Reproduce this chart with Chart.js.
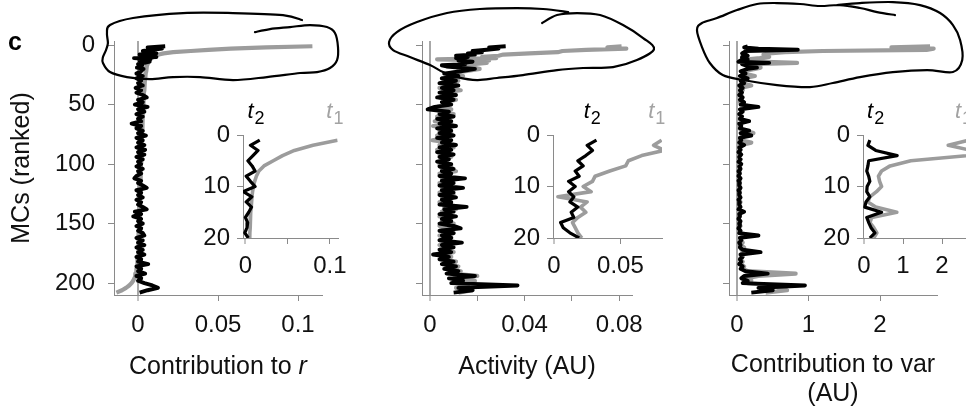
<!DOCTYPE html>
<html><head><meta charset="utf-8">
<script src="https://cdn.jsdelivr.net/npm/chart.js@4.4.1/dist/chart.umd.min.js"></script>
<style>
html,body{margin:0;padding:0;background:#fff;}
#wrap{position:relative;width:966px;height:409px;overflow:hidden;background:#fff;}
canvas{position:absolute;}
</style></head><body>
<div id="wrap">
<canvas id="m1"></canvas><canvas id="m2"></canvas><canvas id="m3"></canvas>
<canvas id="i1"></canvas><canvas id="i2"></canvas><canvas id="i3"></canvas>
</div>
<script>
// ---- data: MC rank (category) ----
const ranks = [1,2,3,4,5,6,7,8,9,10,11,12,13,14,15,16,17,18,19,20,
22,24,26,28,30,32,34,36,38,40,42,44,46,48,50,52,54,56,58,60,
62,64,66,68,70,72,74,76,78,80,82,84,86,88,90,92,94,96,98,100,
102,104,106,108,110,112,114,116,118,120,122,124,126,128,130,132,134,136,138,140,
142,144,146,148,150,152,154,156,158,160,162,164,166,168,170,172,174,176,178,180,
182,184,186,188,190,192,194,196,198,200,202,204,206,208];

// Contribution to r
const rT1 = [0.109,0.080,0.058,0.044,0.033,0.022,0.016,0.013,0.011,0.0095,0.0085,0.0078,0.0072,0.0067,0.0063,0.006,0.0057,0.0055,0.0053,0.0052,
0.005,0.0048,0.0046,0.0045,0.0043,0.0042,0.004,0.0039,0.0038,0.0037,
0.0036,0.0035,0.0034,0.0033,0.0032,0.0031,0.003,0.003,0.0029,0.0028,
0.0028,0.0027,0.0026,0.0026,0.0025,0.0025,0.0024,0.0024,0.0023,0.0023,
0.0022,0.0022,0.0021,0.0021,0.002,0.002,0.002,0.0019,0.0019,0.0018,
0.0018,0.0018,0.0017,0.0017,0.0016,0.0016,0.0016,0.0015,0.0015,0.0014,
0.0014,0.0014,0.0013,0.0013,0.0012,0.0012,0.0012,0.0011,0.0011,0.001,
0.001,0.001,0.0009,0.0009,0.0008,0.0008,0.0007,0.0007,0.0006,0.0006,
0.0005,0.0005,0.0004,0.0004,0.0003,0.0003,0.0002,0.0001,0.0,-0.0001,
-0.0002,-0.0004,-0.0005,-0.0007,-0.001,-0.0013,-0.0017,-0.0022,-0.003,-0.004,
-0.0055,-0.0075,-0.01,-0.0135];
const rT2 = [0.017,0.006,0.015,0.009,0.003,0.008,0.0115,0.001,0.006,0.0115,-0.0025,0.0077,0.001,0.0073,0.004,0.0,0.0027,0.002,-0.0007,0.0035,
0.002,-0.001,0.003,-0.001,0.002,0.0,0.003,-0.0015,0.002,-0.001,
0.003,0.0055,0.0,0.003,-0.002,0.006,0.0,0.004,-0.001,0.003,
0.0,0.002,-0.004,0.002,-0.001,0.003,0.0,0.005,-0.001,0.003,
0.0,0.004,-0.001,0.0045,0.0,0.004,-0.001,0.003,0.0,0.002,
-0.001,0.003,0.0,0.002,-0.001,-0.0023,0.002,0.0,0.003,0.0055,
-0.001,0.002,0.0,0.003,-0.001,0.002,0.0,0.003,0.0055,-0.002,
0.002,-0.003,0.002,0.0,0.003,-0.001,0.002,0.0,0.003,0.004,
-0.001,0.003,0.0,0.004,-0.001,0.003,0.0,0.004,-0.001,0.002,
0.0,0.0064,-0.001,0.002,0.0,0.0045,-0.001,0.002,0.0,0.004,
0.009,0.0125,0.006,0.001];

// Activity (AU)
const aT1 = [0.081,0.075,0.083,0.066,0.056,0.054,0.042,0.031,0.029,0.022,0.028,0.003,0.025,0.020,0.024,0.018,0.014,0.016,0.018,0.021,
0.015,0.007,0.014,0.005,0.012,0.006,0.011,0.004,0.013,0.005,
0.010,0.004,0.011,0.006,0.008,0.003,0.009,0.004,0.010,0.003,
0.008,0.002,0.009,0.0013,0.008,0.004,0.009,0.003,0.007,0.001,
0.008,0.004,0.010,0.003,0.008,0.004,0.009,0.005,0.007,0.004,
0.009,0.005,0.011,0.004,0.008,0.005,0.010,0.004,0.009,0.005,
0.008,0.004,0.010,0.005,0.008,0.004,0.009,0.006,0.011,0.005,
0.008,0.004,0.009,0.005,0.010,0.004,0.008,0.005,0.010,0.004,
0.009,0.005,0.008,0.004,0.009,0.005,0.010,0.004,0.009,0.006,
0.011,0.007,0.012,0.008,0.013,0.009,0.020,0.010,0.019,0.012,
0.016,0.011,0.018,0.012];
const aT2 = [0.032,0.025,0.029,0.024,0.018,0.022,0.016,0.019,0.011,0.016,0.011,0.015,0.012,0.018,0.013,0.015,0.005,0.007,0.012,0.019,
0.013,0.006,0.012,0.005,0.011,0.004,0.012,0.005,0.010,0.004,
0.011,0.003,0.010,0.005,0.009,0.002,-0.001,0.008,0.004,0.010,
0.003,0.009,0.004,0.011,0.003,0.009,0.004,0.010,0.003,0.009,
0.005,0.011,0.004,0.009,0.003,0.010,0.004,0.008,0.003,0.009,
0.004,0.010,0.005,0.009,0.004,0.0148,0.005,0.010,0.004,0.014,
0.005,0.010,0.004,0.011,0.005,0.009,0.004,0.0155,0.006,0.010,
0.004,0.011,0.005,0.009,0.004,0.010,0.013,0.004,0.010,0.005,
0.009,0.004,0.0135,0.005,0.010,0.004,0.009,0.0013,0.008,0.004,
0.010,0.005,0.011,0.006,0.012,0.007,0.019,0.008,0.014,0.009,
0.037,0.012,0.018,0.010];

// Contribution to var (AU)
const vT1 = [2.70,2.16,2.75,2.65,1.20,0.67,0.45,0.37,0.40,0.45,0.32,0.15,0.10,0.30,0.84,0.20,0.15,0.25,0.33,0.25,
0.08,0.10,0.25,0.08,0.12,0.06,0.20,0.05,0.08,0.04,
0.06,0.05,0.07,0.04,0.08,0.20,0.05,0.06,0.04,0.07,
0.03,0.12,0.04,0.05,0.03,0.12,0.23,0.08,0.04,0.05,
0.20,0.06,0.03,0.05,0.03,0.04,0.02,0.05,0.03,0.04,
0.02,0.04,0.03,0.04,0.02,0.04,0.03,0.04,0.02,0.04,
0.03,0.04,0.02,0.04,0.03,0.05,0.02,0.04,0.03,0.06,
0.03,0.04,0.02,0.04,0.03,0.05,0.02,0.04,0.05,0.15,
0.04,0.06,0.08,0.05,0.10,0.06,0.20,0.05,0.06,0.04,
0.08,0.05,0.10,0.08,0.15,0.82,0.30,0.12,0.20,0.15,
0.50,0.60,0.70,0.40];
const vT2 = [0.15,0.10,0.30,0.85,0.12,0.10,0.07,0.12,0.15,0.08,0.07,0.15,0.05,0.02,0.45,0.07,0.12,0.18,0.28,0.15,
0.05,0.12,0.04,0.15,0.05,0.10,0.03,0.08,0.04,0.07,
0.03,0.08,0.04,0.10,0.05,0.30,0.04,0.08,0.03,0.07,
0.04,0.17,0.03,0.06,0.04,0.17,0.05,0.20,0.04,0.06,
0.03,0.10,0.03,0.05,0.02,0.06,0.03,0.05,0.02,0.06,
0.03,0.05,0.02,0.04,0.02,0.05,0.02,0.04,0.03,0.05,
0.02,0.04,0.03,0.05,0.02,0.04,0.03,0.05,0.02,0.10,
0.03,0.04,0.02,0.05,0.03,0.04,0.02,0.05,0.03,0.30,
0.04,0.06,0.03,0.05,0.04,0.08,0.33,0.05,0.08,0.04,
0.06,0.03,0.08,0.05,0.12,0.43,0.10,0.06,0.15,0.08,
0.95,0.30,0.50,0.20];

// tick values and labels
const mainYTicks = [0,50,100,150,200];
const mainYLabels = ['0','50','100','150','200'];
const insetYTicks = [0,10,20];
const insetYLabels = ['0','10','20'];
const rXTicks = [0,0.05,0.1], rXLabels = ['0','0.05','0.1'];
const aXTicks = [0,0.02,0.04,0.06,0.08], aXLabels = ['0','','0.04','','0.08'];
const vXTicks = [0,1,2], vXLabels = ['0','1','2'];
const rInTicks = [0,0.05,0.1], rInLabels = ['0','','0.1'];
const aInTicks = [0,0.05], aInLabels = ['0','0.05'];
const vInTicks = [0,1,2], vInLabels = ['0','1','2'];

// hand-drawn outlines (value, rank) around the top-ranked MCs
const outlineR = [[0.1025,-21],[0.0906,-25.2],[0.0594,-26.9],[0.0281,-26.9],[-0.0031,-22.7],[-0.0175,-16.8],[-0.0194,-10.1],[-0.0188,-1.7],[-0.02,4.2],[-0.0219,10.1],[-0.0219,15.1],[-0.0175,22.7],[-0.0069,26.9],[0.0075,28.6],[0.0219,26.9],[0.0388,26.9],[0.0594,29.4],[0.0806,26.9],[0.1013,23.5],[0.1119,22.7],[0.12,19.3],[0.1244,12.6],[0.125,1.7],[0.1231,-10.1],[0.1181,-15.1],[0.1075,-16.8],[0.095,-15.1],[0.0825,-13.4],[0.0731,-10.9]];
const outlineA = [[0.0584,-27.7],[0.0478,-30.3],[0.0368,-31.1],[0.0211,-30.3],[0.0072,-26.9],[-0.0055,-19.3],[-0.014,-10.9],[-0.0173,-2.5],[-0.0156,4.2],[-0.0085,10.1],[0,16.8],[0.0055,22.7],[0.0114,26.9],[0.0199,29.4],[0.0283,27.7],[0.0393,25.2],[0.0537,21],[0.0647,19.3],[0.0774,18.5],[0.0875,12.6],[0.0947,3.4],[0.0901,-5.9],[0.0816,-16.8],[0.0719,-25.2],[0.0622,-26.9],[0.0537,-25.2],[0.0474,-18.5]];
const outlineV = [[2.21,-25.2],[1.96,-27.7],[1.72,-31.1],[1.44,-33.6],[1.16,-32.8],[0.88,-34.5],[0.56,-35.3],[0.28,-34.5],[0,-29.4],[-0.28,-22.7],[-0.49,-18.5],[-0.56,-12.6],[-0.49,1.7],[-0.38,15.1],[-0.2,25.2],[0.08,29.4],[0.56,33.6],[1.02,35.3],[1.34,31.9],[1.72,26.9],[2.18,22.7],[2.66,21],[3.02,22.7],[3.15,12.6],[3.12,-4.2],[3.02,-16.8],[2.84,-26.9],[2.56,-33.6],[2.18,-36.1],[1.72,-35.3],[1.40,-33.6]];

// ---- styling ----
const FONT = '"Liberation Sans", Arial, Helvetica, sans-serif';
const AX = '#8a8a8a', ZERO = '#a8a8a8', GRAY = '#9c9c9c', TXT = '#111';

function pts(vals, n) {
  const out = [];
  for (let i = 0; i < n; i++) out.push({x: vals[i], y: ranks[i]});
  return out;
}
function smooth(ctx, p) {
  ctx.beginPath(); ctx.moveTo(p[0][0], p[0][1]);
  for (let i = 0; i < p.length - 1; i++) {
    const p0 = p[i-1] || p[i], p1 = p[i], p2 = p[i+1], p3 = p[i+2] || p2;
    ctx.bezierCurveTo(p1[0] + (p2[0]-p0[0])/6, p1[1] + (p2[1]-p0[1])/6,
                      p2[0] - (p3[0]-p1[0])/6, p2[1] - (p3[1]-p1[1])/6, p2[0], p2[1]);
  }
  ctx.stroke();
}
function outlinePlugin(list) {
  return { id: 'outline', afterDraw(chart) {
    const {ctx, scales: {x, y}} = chart;
    const p = list.map(([vx, vy]) => [x.getPixelForValue(vx), y.getPixelForValue(vy)]);
    ctx.save(); ctx.strokeStyle = '#000'; ctx.lineWidth = 2.2; ctx.lineJoin = 'round'; ctx.lineCap = 'round';
    smooth(ctx, p); ctx.restore();
  }};
}
function tPlugin(items) {
  return { id: 'tlabels', afterDraw(chart) {
    const {ctx, chartArea, scales: {x}} = chart;
    ctx.save(); ctx.textAlign = 'left'; ctx.textBaseline = 'alphabetic';
    items.forEach(it => {
      const px = x.getPixelForValue(it.v), py = chartArea.top - 17;
      ctx.fillStyle = it.color;
      ctx.font = 'italic 22px ' + FONT; ctx.fillText('t', px, py);
      const w = ctx.measureText('t').width;
      ctx.font = '18px ' + FONT; ctx.fillText(it.sub, px + w + 1, py + 6);
    });
    ctx.restore();
  }};
}
// x title "Contribution to r" with italic r
function mixedTitle(parts, yPix) {
  return { id: 'mixedTitle', afterDraw(chart) {
    const {ctx, chartArea} = chart;
    ctx.save(); ctx.fillStyle = TXT; ctx.textBaseline = 'middle'; ctx.textAlign = 'left';
    let total = 0;
    parts.forEach(p => { ctx.font = (p.italic ? 'italic ' : '') + '25px ' + FONT; total += ctx.measureText(p.text).width; });
    let px = (chartArea.left + chartArea.right) / 2 - total / 2;
    parts.forEach(p => { ctx.font = (p.italic ? 'italic ' : '') + '25px ' + FONT; ctx.fillText(p.text, px, yPix); px += ctx.measureText(p.text).width; });
    ctx.restore();
  }};
}
const panelLetter = { id: 'letter', afterDraw(chart) {
  const ctx = chart.ctx; ctx.save(); ctx.fillStyle = '#000';
  ctx.font = 'bold 25px ' + FONT; ctx.textBaseline = 'alphabetic'; ctx.fillText('c', 8, 50); ctx.restore();
}};

function build(id, o) {
  const el = document.getElementById(id);
  el.style.left = o.left + 'px'; el.style.top = o.top + 'px';
  el.style.width = o.w + 'px'; el.style.height = o.h + 'px';
  el.width = o.w; el.height = o.h;
  return new Chart(el, {
    type: 'scatter',
    data: { datasets: [
      {data: pts(o.black, o.n), borderColor: '#000', borderWidth: o.bw, showLine: true, pointRadius: 0, pointHoverRadius: 0, borderJoinStyle: 'round', order: 0},
      {data: pts(o.gray, o.n), borderColor: GRAY, borderWidth: o.gw, showLine: true, pointRadius: 0, pointHoverRadius: 0, borderJoinStyle: 'round', order: 1}
    ]},
    options: {
      responsive: false, maintainAspectRatio: false, animation: false, devicePixelRatio: 1, events: [],
      layout: { padding: o.pad },
      plugins: { legend: {display: false}, tooltip: {enabled: false} },
      scales: {
        x: { type: 'linear', position: 'bottom', min: o.xmin, max: o.xmax,
          afterBuildTicks: s => { s.ticks = o.xt.map(v => ({value: v})); },
          afterFit: s => { s.height = o.xh; },
          ticks: { autoSkip: false, maxRotation: 0, minRotation: 0, padding: o.xpad, color: TXT,
                   font: {family: FONT, size: o.fs}, callback: (v, i) => o.xl[i] },
          grid: { drawOnChartArea: !!o.zero, drawTicks: true, tickLength: 6, tickWidth: 1, tickColor: AX,
                  color: c => (o.zero && c.tick && c.tick.value === 0) ? ZERO : 'rgba(0,0,0,0)',
                  lineWidth: c => (c.tick && c.tick.value === 0) ? 2 : 1 },
          border: { display: true, color: AX, width: 1 },
          title: o.xtitle ? { display: true, text: o.xtitle, color: TXT,
                   font: {family: FONT, size: 25, lineHeight: 1.15}, padding: {top: 0, bottom: o.tpb} } : {display: false}
        },
        y: { type: 'linear', position: 'left', reverse: true, min: o.ymin, max: o.ymax,
          afterBuildTicks: s => { s.ticks = o.yt.map(v => ({value: v})); },
          afterFit: s => { s.width = o.yw; },
          ticks: { autoSkip: false, padding: o.ypad, color: TXT, font: {family: FONT, size: o.fs},
                   callback: (v, i) => o.yl ? o.yl[i] : '' },
          grid: { drawOnChartArea: false, drawTicks: true, tickLength: 6, tickWidth: 1, tickColor: AX },
          border: { display: true, color: AX, width: 1 },
          title: o.ytitle ? { display: true, text: o.ytitle, color: TXT,
                   font: {family: FONT, size: 25, lineHeight: 1.15}, padding: {top: o.ytp, bottom: 0} } : {display: false}
        }
      }
    },
    plugins: o.plugins || []
  });
}

const N = ranks.length;
const mainCommon = { top: 0, h: 409, n: N, ymin: -3.4, ymax: 210, yt: mainYTicks, xh: 114, xpad: 10, ypad: 13, fs: 24, bw: 3.9, gw: 4.2, zero: true };
build('m1', Object.assign({}, mainCommon, { left: 0, w: 340, pad: {top: 41, left: 0, right: 18, bottom: 0}, yw: 114,
  black: rT2, gray: rT1, xmin: -0.015, xmax: 0.115, xt: rXTicks, xl: rXLabels, yl: mainYLabels,
  xtitle: null, ytitle: 'MCs (ranked)', ytp: 8,
  plugins: [outlinePlugin(outlineR), panelLetter, mixedTitle([{text: 'Contribution to '}, {text: 'r', italic: true}], 367)] }));
build('m2', Object.assign({}, mainCommon, { left: 340, w: 330, pad: {top: 41, left: 0, right: 38, bottom: 0}, yw: 82,
  black: aT2, gray: aT1, xmin: -0.00338, xmax: 0.0854, xt: aXTicks, xl: aXLabels, yl: null,
  xtitle: 'Activity (AU)', tpb: 28, plugins: [outlinePlugin(outlineA)] }));
build('m3', Object.assign({}, mainCommon, { left: 660, w: 306, pad: {top: 41, left: 0, right: 29, bottom: 0}, yw: 69,
  black: vT2, gray: vT1, xmin: -0.112, xmax: 2.797, xt: vXTicks, xl: vXLabels, yl: null,
  xtitle: ['Contribution to var', '(AU)'], tpb: 1, plugins: [outlinePlugin(outlineV)] }));

const insetCommon = { top: 90, h: 200, n: 20, ymin: 0, ymax: 20, yt: insetYTicks, yl: insetYLabels, yw: 63, xh: 52, xpad: 8, ypad: 7, fs: 24, bw: 3.2, gw: 3.6, zero: false };
build('i1', Object.assign({}, insetCommon, { left: 180, w: 175, pad: {top: 45, left: 0, right: 5, bottom: 0},
  black: rT2, gray: rT1, xmin: -0.0028, xmax: 0.1093, xt: rInTicks, xl: rInLabels,
  plugins: [tPlugin([{v: 0.0024, sub: '2', color: '#000'}, {v: 0.0957, sub: '1', color: '#a3a3a3'}])] }));
build('i2', Object.assign({}, insetCommon, { left: 490, w: 180, pad: {top: 45, left: 0, right: 8, bottom: 0},
  black: aT2, gray: aT1, xmin: -0.0007, xmax: 0.0813, xt: aInTicks, xl: aInLabels,
  plugins: [tPlugin([{v: 0.0224, sub: '2', color: '#000'}, {v: 0.0709, sub: '1', color: '#a3a3a3'}])] }));
build('i3', Object.assign({}, insetCommon, { left: 800, w: 166, pad: {top: 45, left: 0, right: 0, bottom: 0},
  black: vT2, gray: vT1, xmin: -0.026, xmax: 2.615, xt: vInTicks, xl: vInLabels,
  plugins: [tPlugin([{v: 0.077, sub: '2', color: '#000'}, {v: 2.33, sub: '1', color: '#a3a3a3'}])] }));
</script>
</body></html>
